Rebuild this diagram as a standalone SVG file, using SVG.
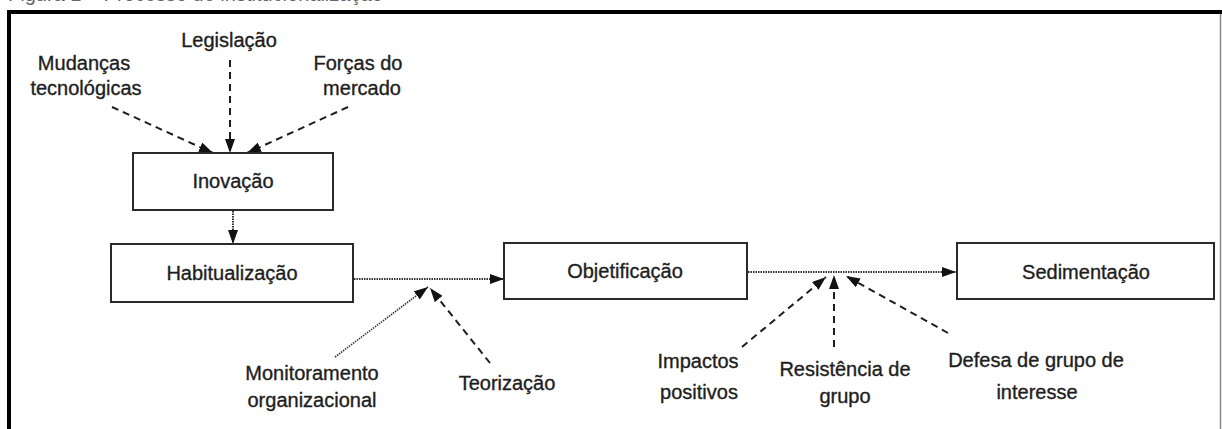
<svg xmlns="http://www.w3.org/2000/svg" width="1222" height="429" viewBox="0 0 1222 429">
<style>
  .bg{fill:#ffffff}
  .box{fill:#ffffff;stroke:#2a2a2a;stroke-width:2}
  .lbl{font-family:"Liberation Sans",Arial,sans-serif;font-size:20px;fill:#1e1e1e;stroke:#1e1e1e;stroke-width:0.35;text-anchor:middle}
  .cap{font-family:"Liberation Sans",Arial,sans-serif;font-size:20px;fill:#666}
  .dash{fill:none;stroke:#1e1e1e;stroke-width:2;stroke-dasharray:7 5}
  .dot{fill:none;stroke:#333;stroke-width:2;stroke-dasharray:1.5 1}
</style>
<defs>
  <marker id="ah" viewBox="0 0 14 10" refX="14" refY="5" markerWidth="14" markerHeight="10" markerUnits="userSpaceOnUse" orient="auto">
    <path d="M0,0 L14,5 L0,10 Z" fill="#111"/>
  </marker>
</defs>
<rect class="bg" x="0" y="0" width="1222" height="429"/>
<text class="cap" x="8" y="1">Figura 1 – Processo de institucionalização</text>
<g id="frame">
  <line x1="7" y1="12" x2="1222" y2="12" stroke="#000" stroke-width="4"/>
  <line x1="9" y1="10" x2="9" y2="429" stroke="#000" stroke-width="4"/>
  <line x1="1220.5" y1="14" x2="1220.5" y2="429" stroke="#888" stroke-width="1.5"/>
</g>
<g id="connectors">
  <line class="dash" x1="112" y1="107" x2="213" y2="153" marker-end="url(#ah)"/>
  <line class="dash" x1="230" y1="60" x2="230" y2="153" marker-end="url(#ah)"/>
  <line class="dash" x1="348" y1="107" x2="247" y2="153" marker-end="url(#ah)"/>
  <line class="dot" x1="233" y1="211" x2="233" y2="244" marker-end="url(#ah)"/>
  <line class="dot" x1="354" y1="279" x2="504" y2="279" marker-end="url(#ah)"/>
  <line class="dot" x1="335" y1="357" x2="428" y2="287" marker-end="url(#ah)" style="stroke-width:1.6"/>
  <line class="dash" x1="490" y1="363" x2="430" y2="288" marker-end="url(#ah)"/>
  <line class="dot" x1="748" y1="272" x2="956" y2="272" marker-end="url(#ah)"/>
  <line class="dash" x1="742" y1="347" x2="826" y2="277" marker-end="url(#ah)"/>
  <line class="dash" x1="834" y1="347" x2="834" y2="275" marker-end="url(#ah)"/>
  <line class="dash" x1="948" y1="333" x2="846" y2="276" marker-end="url(#ah)"/>
</g>
<g id="n-mudancas">
  <text class="lbl" x="84" y="70">Mudanças</text>
  <text class="lbl" x="86" y="95">tecnológicas</text>
</g>
<g id="n-legislacao">
  <text class="lbl" x="229" y="47">Legislação</text>
</g>
<g id="n-forcas">
  <text class="lbl" x="358" y="70">Forças do</text>
  <text class="lbl" x="362" y="95">mercado</text>
</g>
<g id="n-inovacao">
  <rect class="box" x="133" y="153" width="200" height="57"/>
  <text class="lbl" x="233" y="188">Inovação</text>
</g>
<g id="n-habitualizacao">
  <rect class="box" x="111" y="244" width="242" height="58"/>
  <text class="lbl" x="232" y="280">Habitualização</text>
</g>
<g id="n-objetificacao">
  <rect class="box" x="504" y="243" width="243" height="56"/>
  <text class="lbl" x="625" y="278">Objetificação</text>
</g>
<g id="n-sedimentacao">
  <rect class="box" x="957" y="243" width="257" height="56"/>
  <text class="lbl" x="1086" y="279">Sedimentação</text>
</g>
<g id="n-monitoramento">
  <text class="lbl" x="312" y="380">Monitoramento</text>
  <text class="lbl" x="312" y="407">organizacional</text>
</g>
<g id="n-teorizacao">
  <text class="lbl" x="507" y="390">Teorização</text>
</g>
<g id="n-impactos">
  <text class="lbl" x="698" y="368">Impactos</text>
  <text class="lbl" x="699" y="399">positivos</text>
</g>
<g id="n-resistencia">
  <text class="lbl" x="845" y="376">Resistência de</text>
  <text class="lbl" x="845" y="403">grupo</text>
</g>
<g id="n-defesa">
  <text class="lbl" x="1036" y="367">Defesa de grupo de</text>
  <text class="lbl" x="1037" y="399">interesse</text>
</g>
</svg>
